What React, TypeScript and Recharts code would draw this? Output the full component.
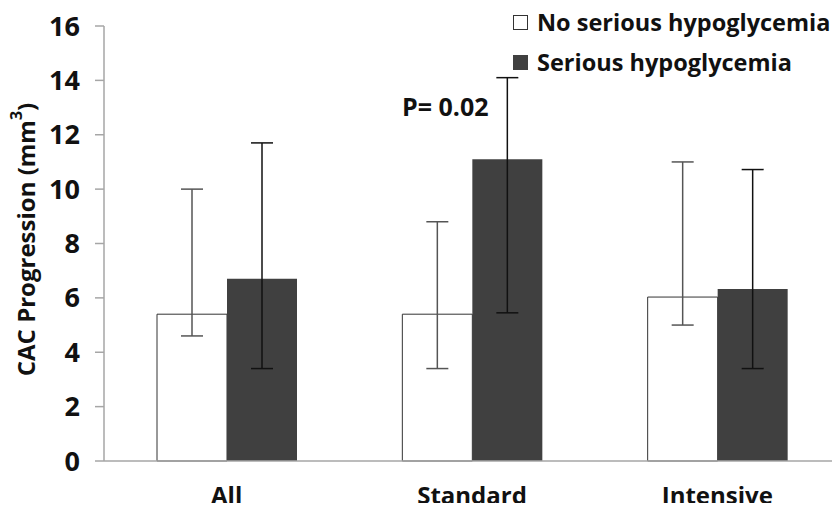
import { BarChart, Bar, XAxis, YAxis, ErrorBar } from 'recharts';

const categories = ['All', 'Standard', 'Intensive'];
const noSerious = [5.4, 5.4, 6.03];
const noSeriousLow = [4.6, 3.4, 5.0];
const noSeriousHigh = [10.0, 8.8, 11.0];
const serious = [6.7, 11.1, 6.33];
const seriousLow = [3.4, 5.45, 3.4];
const seriousHigh = [11.7, 14.1, 10.72];
const yTicks = [0, 2, 4, 6, 8, 10, 12, 14, 16];

const data = categories.map((name, i) => ({
  name,
  noSerious: noSerious[i],
  noSeriousErr: [noSerious[i] - noSeriousLow[i], noSeriousHigh[i] - noSerious[i]],
  serious: serious[i],
  seriousErr: [serious[i] - seriousLow[i], seriousHigh[i] - serious[i]],
}));

const font = "'Open Sans', sans-serif";

const YLabel = (props: any) => {
  const { viewBox } = props;
  const cx = 25;
  const cy = viewBox.y + viewBox.height / 2 - 4;
  return (
    <text x={cx} y={cy} transform={`rotate(-90 ${cx} ${cy})`} textAnchor="middle" dominantBaseline="central"
      fontFamily={font} fontWeight={700} fontSize={24} fill="#111">
      CAC Progression (mm<tspan dy={-9} fontSize={16}>3</tspan><tspan dy={9}>)</tspan>
    </text>
  );
};

export default function App() {
  return (
    <div style={{ margin: -8, position: 'relative', width: 840, height: 511, background: '#fff', fontFamily: font }}>
      <BarChart width={840} height={511} data={data} margin={{ top: 26, right: 0, bottom: 0, left: 0 }}
        barGap={0} barSize={70}>
        <XAxis dataKey="name" height={50} axisLine={{ stroke: '#a6a6a6', strokeWidth: 1.5 }} tickLine={false}
          tickSize={0} tickMargin={26}
          tick={{ fill: '#111', fontSize: 24, fontWeight: 700, fontFamily: font }} />
        <YAxis width={104} domain={[0, 16]} ticks={yTicks} interval={0}
          axisLine={{ stroke: '#a6a6a6', strokeWidth: 1.5 }} tickLine={{ stroke: '#a6a6a6', strokeWidth: 1.5 }}
          tickSize={9} tickMargin={15}
          tick={{ fill: '#111', fontSize: 27, fontWeight: 700, fontFamily: font }}
          label={<YLabel />} />
        <Bar dataKey="noSerious" fill="#fff" stroke="#333" strokeWidth={1} isAnimationActive={false}>
          <ErrorBar dataKey="noSeriousErr" width={11} stroke="#555" strokeWidth={1.5} direction="y" />
        </Bar>
        <Bar dataKey="serious" fill="#404040" isAnimationActive={false}>
          <ErrorBar dataKey="seriousErr" width={11} stroke="#111" strokeWidth={1.5} direction="y" />
        </Bar>
      </BarChart>
      <div style={{ position: 'absolute', left: 402, top: 89, fontSize: 25, fontWeight: 700, color: '#111', lineHeight: '34px', whiteSpace: 'nowrap' }}>
        P= 0.02
      </div>
      <div style={{ position: 'absolute', left: 513, top: 2, fontSize: 23.5, fontWeight: 700, color: '#111', lineHeight: '40px', whiteSpace: 'nowrap' }}>
        <div style={{ display: 'flex', alignItems: 'center' }}>
          <span style={{ display: 'inline-block', width: 13, height: 13, border: '1px solid #333', background: '#fff', marginRight: 9 }} />
          No serious hypoglycemia
        </div>
        <div style={{ display: 'flex', alignItems: 'center' }}>
          <span style={{ display: 'inline-block', width: 15, height: 15, background: '#404040', marginRight: 9 }} />
          Serious hypoglycemia
        </div>
      </div>
    </div>
  );
}
